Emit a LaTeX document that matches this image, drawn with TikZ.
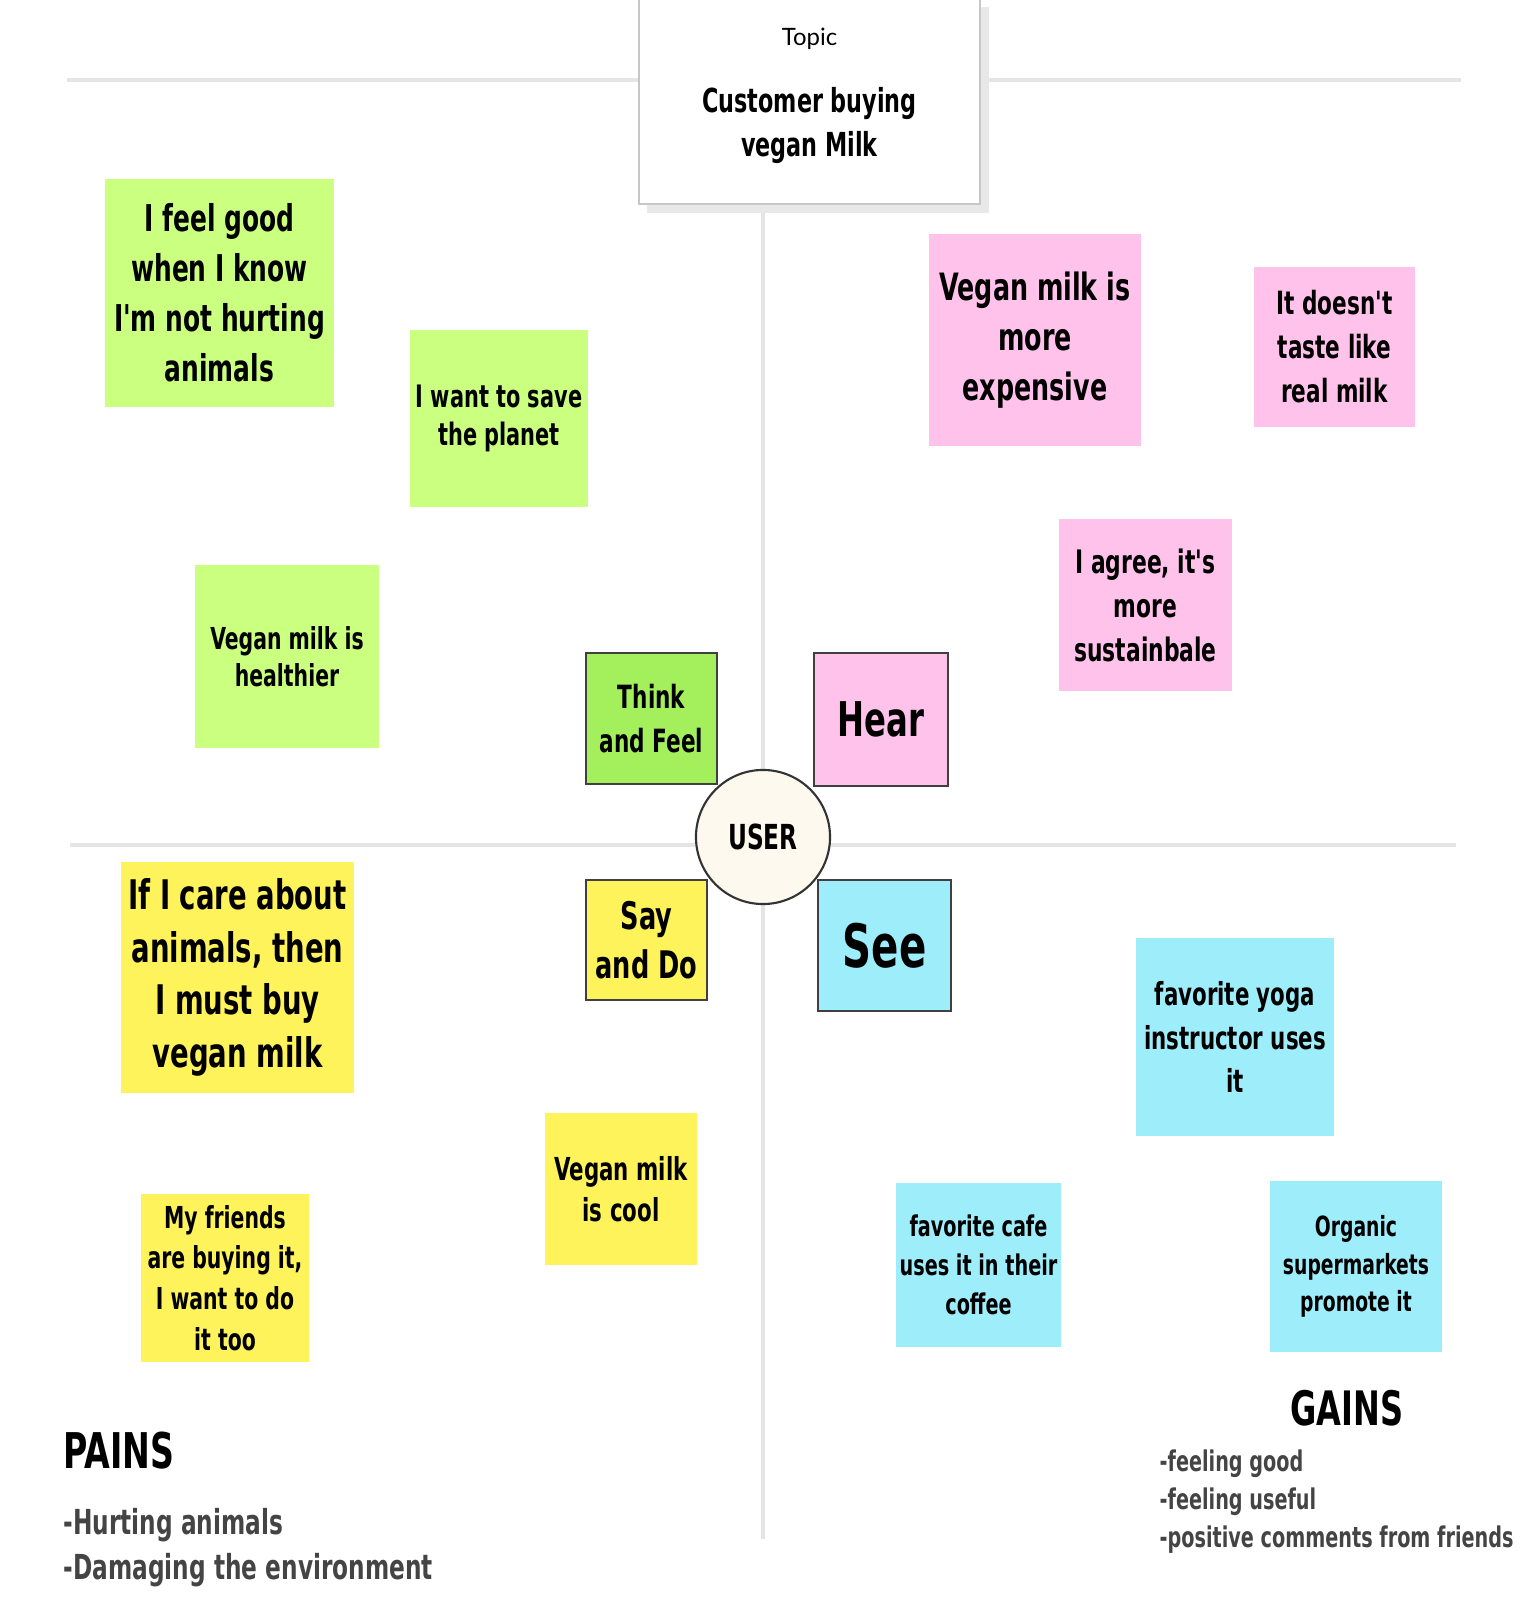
\documentclass[tikz,border=0pt]{standalone}
\usepackage{fontspec}
\newfontfamily\hand{DejaVu Sans Condensed Bold}[FakeStretch=0.75]
\newfontfamily\plainfont{Lato}
\newcommand\sz[2]{\fontsize{#1}{#2}\selectfont}
\definecolor{lgreen}{HTML}{CBFF7F}
\definecolor{dgreen}{HTML}{A3EF5C}
\definecolor{npink}{HTML}{FFC2EA}
\definecolor{nyellow}{HTML}{FFF35C}
\definecolor{ncyan}{HTML}{9EEDFB}
\definecolor{cream}{HTML}{FEF9EE}
\definecolor{axis}{HTML}{E5E5E5}
\definecolor{listgray}{HTML}{444444}

\begin{document}
\begin{tikzpicture}[x={(0.01cm,0)},y={(0,-0.01cm)},
 note/.style={inner sep=0pt,align=center,font=\hand},
 cat/.style={note,draw=black!75,line width=0.5pt},
 ax/.style={axis,line width=1.1pt}]
\useasboundingbox (0,0) rectangle (1536,1600);
% quadrant lines
\coordinate (tl) at (67,80);\coordinate (tr) at (1461,80);
\coordinate (ml) at (70,845);\coordinate (mr) at (1456,845);
\coordinate (vt) at (763,204);\coordinate (vb) at (763,1539);
\draw[ax] (tl)--(tr);
\draw[ax] (ml)--(mr);
\draw[ax] (vt)--(vb);
% topic
\fill[black!9] (647,7) rectangle (989,213);
\node[draw=black!22,fill=white,line width=0.6pt,minimum width=3.41cm,minimum height=2.06cm,inner sep=0pt] (topic) at (809.5,101) {};
\node[font=\plainfont\sz{6.8}{8}] (tlabel) at (809.5,39) {Topic};
\node[note,font=\hand\sz{9.4}{12.6}] (ttext) at (809.5,125.5) {Customer buying\\vegan Milk};
% think and feel
\node[note,fill=lgreen,minimum width=2.29cm,minimum height=2.28cm,font=\hand\sz{10.5}{14.2}] (good) at (219.5,293) {I feel good\\when I know\\I'm not hurting\\animals};
\node[note,fill=lgreen,minimum width=1.78cm,minimum height=1.77cm,font=\hand\sz{8.8}{10.9}] (planet) at (499,418.5) {I want to save\\the planet};
\node[note,fill=lgreen,minimum width=1.84cm,minimum height=1.83cm,font=\hand\sz{8.6}{10.5}] (health) at (287,656.5) {Vegan milk is\\healthier};
% hear
\node[note,fill=npink,minimum width=2.12cm,minimum height=2.12cm,font=\hand\sz{10.7}{14.2}] (price) at (1035,340) {Vegan milk is\\more\\expensive};
\node[note,fill=npink,minimum width=1.61cm,minimum height=1.60cm,font=\hand\sz{9.1}{12.5}] (taste) at (1334.5,347) {It doesn't\\taste like\\real milk};
\node[note,fill=npink,minimum width=1.73cm,minimum height=1.72cm,font=\hand\sz{9.2}{12.5}] (agree) at (1145.5,605) {I agree, it's\\more\\sustainbale};
% say and do
\node[note,fill=nyellow,minimum width=2.33cm,minimum height=2.31cm,font=\hand\sz{11.6}{15}] (care) at (237.5,977.5) {If I care about\\animals, then\\I must buy\\vegan milk};
\node[note,fill=nyellow,minimum width=1.68cm,minimum height=1.68cm,font=\hand\sz{8.6}{11.6}] (friends) at (225,1278) {My friends\\are buying it,\\I want to do\\it too};
\node[note,fill=nyellow,minimum width=1.52cm,minimum height=1.52cm,font=\hand\sz{9}{11.7}] (cool) at (621,1189) {Vegan milk\\is cool};
% see
\node[note,fill=ncyan,minimum width=1.98cm,minimum height=1.98cm,font=\hand\sz{9}{12.3}] (yoga) at (1235,1037) {favorite yoga\\instructor uses\\it};
\node[note,fill=ncyan,minimum width=1.65cm,minimum height=1.64cm,font=\hand\sz{8.1}{11}] (cafe) at (978.5,1265) {favorite cafe\\uses it in their\\coffee};
\node[note,fill=ncyan,minimum width=1.72cm,minimum height=1.71cm,font=\hand\sz{7.9}{10.6}] (shops) at (1356,1266.5) {Organic\\supermarkets\\promote it};
% categories
\node[cat,fill=dgreen,minimum width=1.31cm,minimum height=1.31cm,font=\hand\sz{9.1}{12.5}] (think) at (651.5,718.5) {Think\\and Feel};
\node[cat,fill=npink,minimum width=1.34cm,minimum height=1.33cm,font=\hand\sz{13.6}{15}] (hear) at (881,719.5) {Hear};
\node[cat,fill=nyellow,minimum width=1.21cm,minimum height=1.20cm,font=\hand\sz{10.8}{14}] (say) at (646.5,940) {Say\\and Do};
\node[cat,fill=ncyan,minimum width=1.33cm,minimum height=1.31cm,font=\hand\sz{17}{18}] (see) at (884.5,945.5) {See};
\node[circle,draw=black!80,line width=0.6pt,fill=cream,minimum size=1.34cm,inner sep=0pt,font=\hand\sz{9.8}{12}] (user) at (763,837) {USER};
% pains and gains
\node[anchor=west,inner sep=0pt,font=\hand\sz{14}{16}] (pains) at (63,1451) {PAINS};
\node[anchor=west,inner sep=0pt,align=left,text=listgray,font=\hand\sz{9.8}{12.8}] (plist) at (63,1547.5) {-Hurting animals\\-Damaging the environment};
\node[inner sep=0pt,font=\hand\sz{13.5}{15}] (gains) at (1347,1408) {GAINS};
\node[anchor=west,inner sep=0pt,align=left,text=listgray,font=\hand\sz{8.1}{10.8}] (glist) at (1159,1502) {-feeling good\\-feeling useful\\-positive comments from friends};
\end{tikzpicture}
\end{document}
